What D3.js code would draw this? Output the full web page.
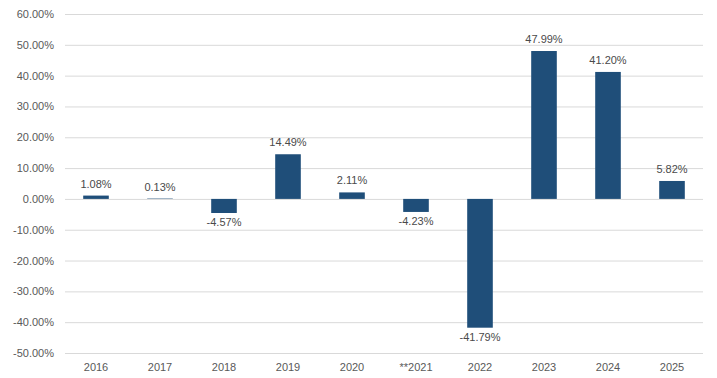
<!DOCTYPE html>
<html>
<head>
<meta charset="utf-8">
<script src="https://cdn.jsdelivr.net/npm/d3@7"></script>
<style>
  body { margin: 0; background: #fff; }
  text { font-family: "Liberation Sans", Arial, sans-serif; }
</style>
</head>
<body>
<div id="chart"></div>
<script>
"use strict";

const years = ["2016", "2017", "2018", "2019", "2020", "**2021", "2022", "2023", "2024", "2025"];
const returns = [1.08, 0.13, -4.57, 14.49, 2.11, -4.23, -41.79, 47.99, 41.20, 5.82];
const yTicks = [60, 50, 40, 30, 20, 10, 0, -10, -20, -30, -40, -50];

const cont = {
    width: 717,
    height: 378,
    left: 64,
    right: 704,
    top: 14,
    bottom: 353,
}

const svg = d3.select("#chart")
    .append("svg")
    .attr("width", cont.width)
    .attr("height", cont.height);

let xScale = d3.scaleBand()
    .domain(years)
    .range([cont.left, cont.right])
    .paddingInner(0.6)
    .paddingOuter(0.3);

let yScale = d3.scaleLinear()
    .domain([60, -50])
    .range([cont.top, cont.bottom]);

// gridlines + y labels
let yAxis = d3.axisLeft(yScale)
    .tickValues(yTicks)
    .tickSize(-(cont.right - cont.left - 2))
    .tickPadding(11)
    .tickFormat((d) => d.toFixed(2) + "%");

let gy = svg.append("g")
    .attr("transform", "translate(" + (cont.left + 1) + ",0)")
    .call(yAxis);
gy.select(".domain").remove();
gy.selectAll("line").attr("stroke", "#d9d9d9").attr("stroke-width", 1);
gy.selectAll("text")
    .attr("fill", "#595959")
    .style("font-size", "11px");

// bars
svg.selectAll(".bar")
    .data(returns)
    .enter()
    .append("rect")
    .attr("class", "bar")
    .attr("x", (d, i) => xScale(years[i]))
    .attr("width", xScale.bandwidth())
    .attr("y", (d) => yScale(Math.max(d, 0)))
    .attr("height", (d) => Math.abs(yScale(d) - yScale(0)))
    .attr("fill", "#1f4e79");

// value labels
svg.selectAll(".val")
    .data(returns)
    .enter()
    .append("text")
    .attr("class", "val")
    .attr("x", (d, i) => xScale(years[i]) + xScale.bandwidth() / 2)
    .attr("y", (d) => d >= 0 ? yScale(d) - 8 : yScale(d) + 13)
    .attr("text-anchor", "middle")
    .attr("fill", "#4a4a4a")
    .style("font-size", "11px")
    .text((d) => d.toFixed(2) + "%");

// x labels
let xAxis = d3.axisBottom(xScale).tickSize(0).tickPadding(0);
let gx = svg.append("g")
    .attr("transform", "translate(0," + (cont.bottom + 10) + ")")
    .call(xAxis);
gx.select(".domain").remove();
gx.selectAll("text")
    .attr("fill", "#595959")
    .attr("dy", "0.71em")
    .style("font-size", "11px");
</script>
</body>
</html>
